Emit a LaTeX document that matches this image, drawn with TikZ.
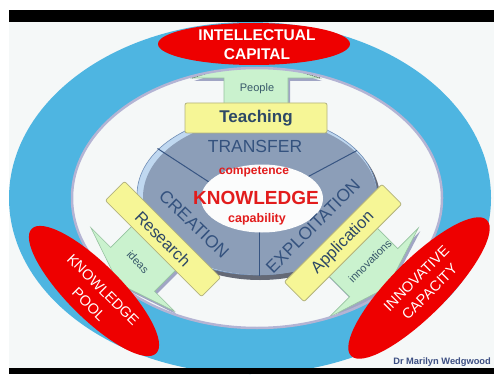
\documentclass[tikz,border=0pt]{standalone}
\usepackage{fontspec}
\setmainfont{Liberation Sans}
\definecolor{bgc}{RGB}{245,248,248}
\definecolor{ringblue}{RGB}{78,181,225}
\definecolor{lavedge}{RGB}{180,180,212}
\definecolor{grayring}{RGB}{140,158,184}
\definecolor{rimblue}{RGB}{192,216,240}
\definecolor{rimedge}{RGB}{110,140,180}
\definecolor{shadowc}{RGB}{100,105,118}
\definecolor{divc}{RGB}{55,85,130}
\definecolor{sectc}{RGB}{52,82,126}
\definecolor{kred}{RGB}{226,28,28}
\definecolor{boxy}{RGB}{246,246,150}
\definecolor{boxedge}{RGB}{178,178,125}
\definecolor{boxtext}{RGB}{45,72,102}
\definecolor{agreen}{RGB}{202,242,206}
\definecolor{aedge}{RGB}{150,195,160}
\definecolor{ashadow}{RGB}{160,165,196}
\definecolor{atext}{RGB}{55,88,105}
\definecolor{capred}{RGB}{238,0,0}
\definecolor{creditc}{RGB}{60,78,130}
\newcommand{\myfs}[1]{\fontsize{#1}{#1}\selectfont}
\begin{document}
\begin{tikzpicture}[x=1pt,y=-1pt,
  ybox/.style={draw=boxedge, line width=0.8pt, fill=boxy, rounded corners=2pt, inner sep=0pt, text=boxtext},
  sect/.style={text=sectc, inner sep=0pt, font=\myfs{17.5}},
  ktxt/.style={text=kred, inner sep=0pt},
  atxt/.style={text=atext, inner sep=0pt, font=\myfs{11}},
  arrowfill/.style={fill=agreen, draw=aedge, line width=0.6pt},
  arrowshade/.style={fill=ashadow},
  capell/.style={fill=capred},
  captxt/.style={text=white, inner sep=0pt, align=center}
]
\path[use as bounding box] (0,0) rectangle (494,374);
\fill[white] (0,0) rectangle (494,374);
\fill[bgc] (9,22) rectangle (494,368);

% inner area
\fill[bgc] (257,198) ellipse [x radius=185, y radius=130];

% People arrow
\begin{scope}[shift={(258,121)}]
\fill[arrowshade] (-32,0) -- (-32,-40) -- (-64,-40) -- (0,-60) -- (64,-40) -- (32,-40) -- (32,0) -- cycle;
\end{scope}
\begin{scope}[shift={(256,118)}]
\filldraw[arrowfill] (-32,0) -- (-32,-40) -- (-64,-40) -- (0,-60) -- (64,-40) -- (32,-40) -- (32,0) -- cycle;
\draw[densely dotted, line width=0.8pt, black!65] (-64,-40) -- (0,-60) -- (64,-40);
\end{scope}

% ideas arrow
\begin{scope}[shift={(165,242)}, rotate=135]
\fill[arrowshade] (-31,0) -- (-31,-43) -- (-59,-43) -- (0,-63) -- (59,-43) -- (31,-43) -- (31,0) -- cycle;
\end{scope}
\begin{scope}[shift={(163,239)}, rotate=135]
\filldraw[arrowfill] (-31,0) -- (-31,-43) -- (-59,-43) -- (0,-63) -- (59,-43) -- (31,-43) -- (31,0) -- cycle;
\end{scope}

% innovations arrow
\begin{scope}[shift={(346,246)}, rotate=-135]
\fill[arrowshade] (-34,0) -- (-34,-42) -- (-63,-42) -- (0,-62) -- (63,-42) -- (34,-42) -- (34,0) -- cycle;
\end{scope}
\begin{scope}[shift={(344,243)}, rotate=-135]
\filldraw[arrowfill] (-34,0) -- (-34,-42) -- (-63,-42) -- (0,-62) -- (63,-42) -- (34,-42) -- (34,0) -- cycle;
\end{scope}

% blue ring
\fill[ringblue, even odd rule] (250,198) ellipse [x radius=241, y radius=176]
  (257,198) ellipse [x radius=185, y radius=130];
\draw[lavedge, line width=2.5pt] (257,198) ellipse [x radius=185, y radius=130];

% arrow labels
\node[atxt] (people) at (257,89) {People};
\node[atxt, rotate=-47] (ideas) at (138,262) {ideas};
\node[atxt, rotate=45] (innov) at (370,261) {innovations};

% central gray ring
\fill[shadowc] (260,199) ellipse [x radius=120, y radius=81];
\filldraw[fill=rimblue, draw=rimedge, line width=0.6pt] (257,195) ellipse [x radius=120, y radius=80];
\fill[grayring] (260,197) ellipse [x radius=117, y radius=78];
\draw[divc, line width=1pt] (157.5,148.5) -- (212,184);
\draw[divc, line width=1pt] (357,150.5) -- (300,181);
\draw[divc, line width=1pt] (259,226) -- (259,276);
\fill[white!60!bgc] (262,198.5) ellipse [x radius=61, y radius=34];

\node[sect] (transfer) at (255,146) {TRANSFER};
\node[sect, rotate=-44] (creation) at (194,224) {CREATION};
\node[sect, rotate=45] (exploit) at (313,226) {EXPLOITATION};

\node[ktxt, font=\myfs{12}\bfseries] (comp) at (254,172) {competence};
\node[ktxt, font=\myfs{19}\bfseries] (know) at (256,198) {KNOWLEDGE};
\node[ktxt, font=\myfs{12.5}\bfseries] (capab) at (257,219) {capability};

% yellow boxes
\node[ybox, minimum width=142pt, minimum height=30pt, font=\myfs{17}\bfseries] (teach) at (256,118) {Teaching};
\node[ybox, minimum width=136pt, minimum height=27pt, rotate=-45, font=\myfs{16.5}] (research) at (163,239) {Research};
\node[ybox, minimum width=138pt, minimum height=28pt, rotate=45, font=\myfs{16.5}] (appl) at (343,243) {Application};

% red ellipses
\fill[capell] (254,44) ellipse [x radius=96, y radius=21];
\node[captxt, font=\fontsize{15.5}{19}\selectfont\bfseries] (ic) at (257,45) {INTELLECTUAL\\CAPITAL};

\fill[capell, rotate around={-45:(94,291)}] (94,291) ellipse [x radius=88, y radius=27];
\node[captxt, rotate=-45, font=\fontsize{14.5}{20}\selectfont] (kp) at (96,297) {KNOWLEDGE\\POOL};

\fill[capell, rotate around={45:(419,288)}] (419,288) ellipse [x radius=96, y radius=28];
\node[captxt, rotate=45, font=\fontsize{14.5}{19}\selectfont] (ic2) at (423,285) {INNOVATIVE\\CAPACITY};

% credit
\node[text=creditc, inner sep=0pt, font=\myfs{9.3}\bfseries, anchor=east] (credit) at (491,362) {Dr Marilyn Wedgwood};

% black bars
\fill[black] (9,10) rectangle (494,22);
\fill[black] (9,368) rectangle (494,374);
\end{tikzpicture}
\end{document}
